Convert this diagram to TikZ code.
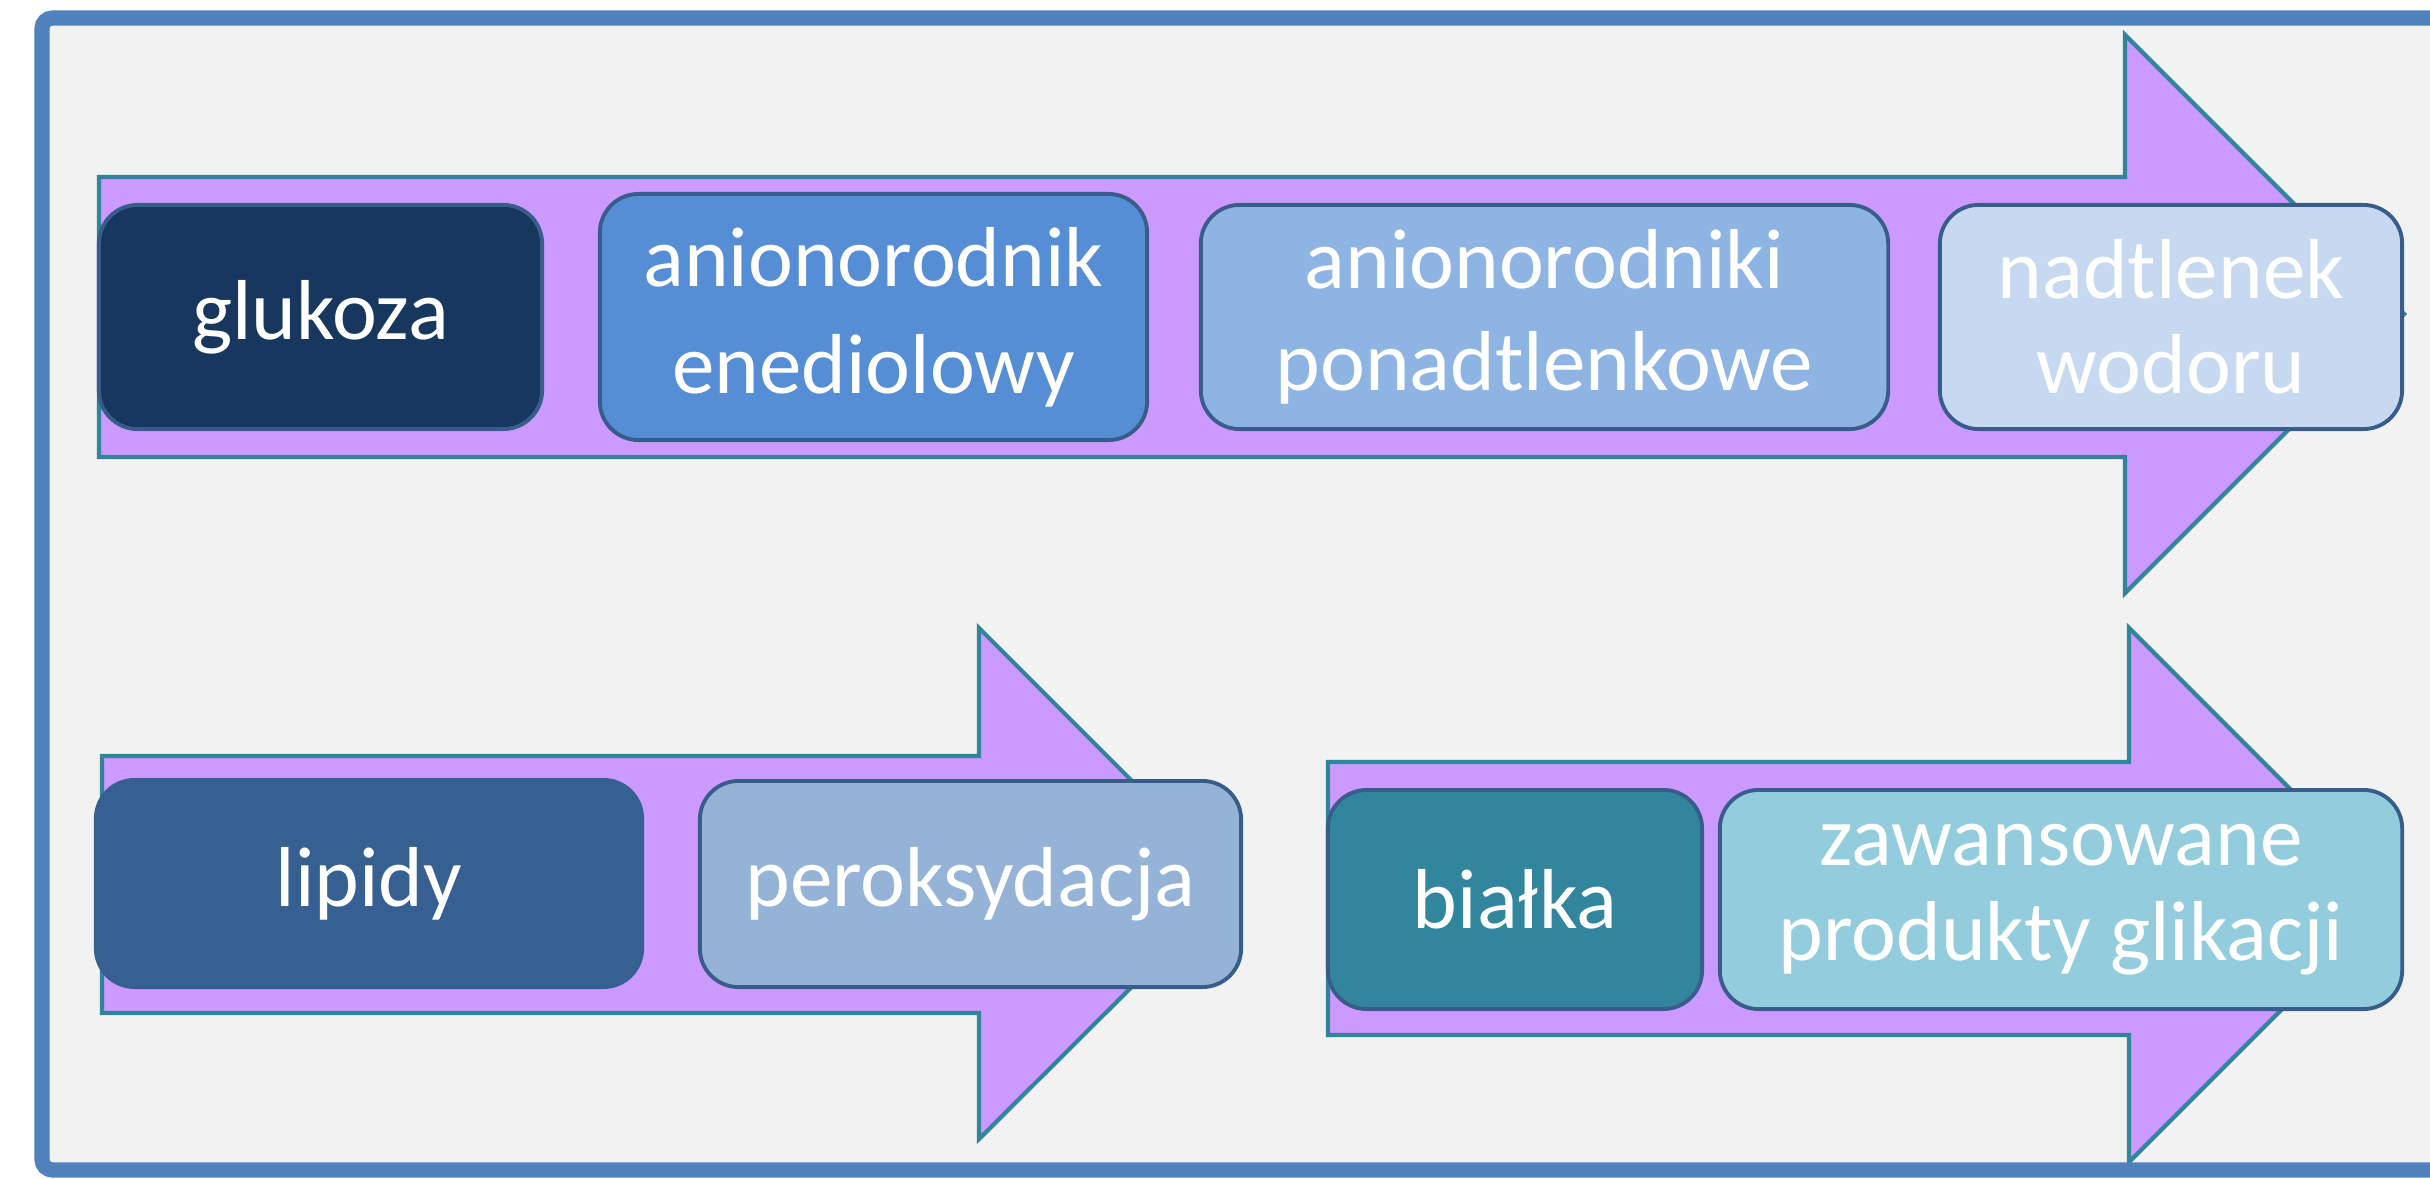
\documentclass[tikz,border=0pt]{standalone}
\usepackage{fontspec}
\setmainfont{Carlito}
\definecolor{framebl}{HTML}{4F81BD}
\definecolor{bggray}{HTML}{F2F2F2}
\definecolor{arrfill}{HTML}{CC99FF}
\definecolor{arrline}{HTML}{31849B}
\definecolor{boxline}{HTML}{385D8A}
\definecolor{cA}{HTML}{17375E}
\definecolor{cB}{HTML}{558ED5}
\definecolor{cC}{HTML}{8EB4E3}
\definecolor{cD}{HTML}{C6D9F1}
\definecolor{cE}{HTML}{366092}
\definecolor{cF}{HTML}{95B3D7}
\definecolor{cG}{HTML}{31859C}
\definecolor{cH}{HTML}{93CDDD}
\begin{document}
\begin{tikzpicture}[x=0.01cm,y=-0.01cm,
  bigarrow/.style={fill=arrfill,draw=arrline,line width=1.2pt,line join=miter},
  procbox/.style={rectangle,rounded corners=11pt,draw=boxline,line width=1.1pt,
    text=white,align=center,inner sep=0pt,font=\fontsize{24.2}{29}\selectfont}]
\useasboundingbox (0,0) rectangle (2430,1179);
\clip (0,0) rectangle (2430,1179);
\fill[white] (0,0) rectangle (2430,1179);
\fill[bggray] (42,18) rectangle (2460,1170);
% arrows
\draw[bigarrow] (99,177) -- (2125,177) -- (2125,35) -- (2404,314) -- (2125,593) -- (2125,457) -- (99,457) -- cycle;
\draw[bigarrow] (102,756) -- (979,756) -- (979,628) -- (1235,884) -- (979,1139) -- (979,1013) -- (102,1013) -- cycle;
\draw[bigarrow] (1328,762) -- (2129,762) -- (2129,628) -- (2396,895) -- (2129,1162) -- (2129,1035) -- (1328,1035) -- cycle;
% boxes top row
\node[procbox,fill=cA,minimum width=4.43cm,minimum height=2.24cm] (glu) at (320.5,317) {glukoza};
\node[procbox,fill=cB,minimum width=5.47cm,minimum height=2.46cm,font=\fontsize{24.2}{30.5}\selectfont] (ene) at (873.5,317) {anionorodnik\\enediolowy};
\node[procbox,fill=cC,minimum width=6.87cm,minimum height=2.24cm] (pon) at (1544.5,317) {anionorodniki\\ponadtlenkowe};
\node[procbox,fill=cD,minimum width=4.62cm,minimum height=2.24cm,font=\fontsize{24.2}{27}\selectfont] (h2o2) at (2171,317) {nadtlenek\\wodoru};
% bottom row
\node[procbox,fill=cE,draw=cE,minimum width=5.46cm,minimum height=2.07cm] (lip) at (369,883.5) {lipidy};
\node[procbox,fill=cF,minimum width=5.41cm,minimum height=2.06cm] (per) at (970.5,884) {peroksydacja};
\node[procbox,fill=cG,minimum width=3.74cm,minimum height=2.19cm] (bia) at (1515,899.5) {białka};
\node[procbox,fill=cH,minimum width=6.82cm,minimum height=2.19cm,font=\fontsize{24.2}{27}\selectfont] (age) at (2061,899.5) {zawansowane\\produkty glikacji};
% frame
\draw[framebl,line width=4.3pt,rounded corners=3pt] (42,18) rectangle (2460,1170);
\end{tikzpicture}
\end{document}
